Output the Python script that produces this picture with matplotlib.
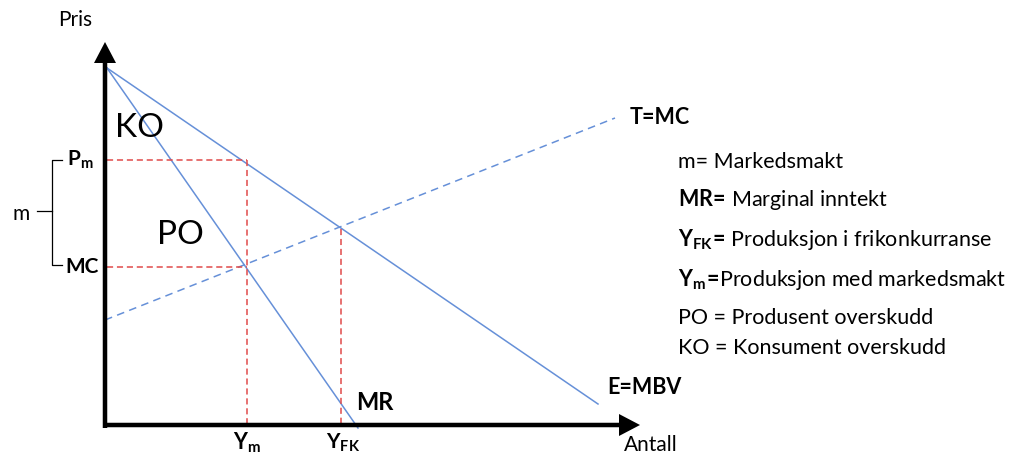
"""
Monopoly diagram: demand (E=MBV), marginal revenue (MR), marginal cost (T=MC),
with consumer / producer surplus labels and a text legend.
"""
import matplotlib.pyplot as plt

# diagram units: measured from the origin corner of the axes (price up, quantity right)
DEMAND_Q = [2, 493]
DEMAND_P = [357, 21]
MR_Q = [2, 253]
MR_P = [357, -3]
MC_Q = [0, 510]
MC_P = [105, 307]

P_M = 265        # monopoly price
MC_LEVEL = 158   # marginal cost at Y_m
Y_M = 142        # quantity with market power
Y_FK = 236       # quantity under perfect competition
P_FK = 196       # price under perfect competition

# "\!" cancels the extra space mathtext puts around "="
LEGEND = [
    r"m= Markedsmakt",
    r"$\mathbf{MR}\!\mathbf{=}\!$ Marginal inntekt",
    r"$\mathbf{Y_{FK}}\!\mathbf{=}\!$ Produksjon i frikonkurranse",
    r"$\mathbf{Y_{m}}\!\mathbf{=}\!$Produksjon med markedsmakt",
    r"PO = Produsent overskudd",
    r"KO = Konsument overskudd",
]
LEGEND_Y = [263, 225, 185, 145, 107, 77]

BLUE = "#6690D8"
RED = "#E04A4A"

plt.rcParams["font.family"] = ["Lato", "DejaVu Sans"]
plt.rcParams["mathtext.fontset"] = "custom"
plt.rcParams["mathtext.rm"] = "Lato"
plt.rcParams["mathtext.bf"] = "Lato:bold"
plt.rcParams["mathtext.it"] = "Lato:italic"

fig = plt.figure(figsize=(10.26, 4.57), dpi=100)
ax = fig.add_axes([0, 0, 1, 1])
ax.set_xlim(-105, 921)
ax.set_ylim(-32, 425)
ax.axis("off")

# axes with arrow heads
ax.arrow(0, -3, 0, 386, width=4.5, head_width=22, head_length=21,
         length_includes_head=True, fc="black", ec="none", zorder=5)
ax.arrow(-2, 0, 537, 0, width=4.5, head_width=22, head_length=21,
         length_includes_head=True, fc="black", ec="none", zorder=5)

# curves
ax.plot(DEMAND_Q, DEMAND_P, color=BLUE, lw=1.1)
ax.plot(MR_Q, MR_P, color=BLUE, lw=1.1)
ax.plot(MC_Q, MC_P, color=BLUE, lw=1.1, ls=(0, (5, 3.5)))

# red guide lines
red = dict(color=RED, lw=1.1, ls=(0, (4, 2.5)))
ax.plot([2, Y_M], [P_M, P_M], **red)
ax.plot([2, Y_M], [MC_LEVEL, MC_LEVEL], **red)
ax.plot([Y_M, Y_M], [P_M, 2], **red)
ax.plot([Y_FK, Y_FK], [P_FK, 2], **red)

# bracket for market power
mid = (P_M + MC_LEVEL) / 2 + 3
ax.plot([-43, -53, -53, -43], [P_M, P_M, MC_LEVEL + 2, MC_LEVEL + 2], color="black", lw=0.9)
ax.plot([-68, -53], [mid, mid], color="black", lw=0.9)
ax.text(-84, mid - 3, "m", fontsize=15, ha="center", va="center")

# axis labels
ax.text(-30, 405, "Pris", fontsize=15, ha="center", va="center")
ax.text(546, -20, "Antall", fontsize=15, ha="center", va="center")

# point labels
ax.text(-38, P_M, r"$\mathbf{P_{m}}$", fontsize=15, ha="left", va="center")
ax.text(-40, MC_LEVEL, "MC", fontsize=15, fontweight="bold", ha="left", va="center")
ax.text(Y_M, -18, r"$\mathbf{Y_{m}}$", fontsize=15.5, ha="center", va="center")
ax.text(Y_FK + 2, -18, r"$\mathbf{Y_{FK}}$", fontsize=15, ha="center", va="center")

# curve labels
ax.text(MR_Q[1] - 2, 22, "MR", fontsize=17, fontweight="bold", ha="left", va="center")
ax.text(DEMAND_Q[1] + 9, 38, "E=MBV", fontsize=15.5, fontweight="bold", ha="left", va="center")
ax.text(MC_Q[1] + 15, 307, "T=MC", fontsize=15.5, fontweight="bold", ha="left", va="center")

# surplus areas
ax.text(10, 297, "KO", fontsize=24, ha="left", va="center")
ax.text(52, 190, "PO", fontsize=24, ha="left", va="center")

for s, yy in zip(LEGEND, LEGEND_Y):
    ax.text(573, yy, s, fontsize=15.5, ha="left", va="center")

fig.savefig("out.png", dpi=100)
